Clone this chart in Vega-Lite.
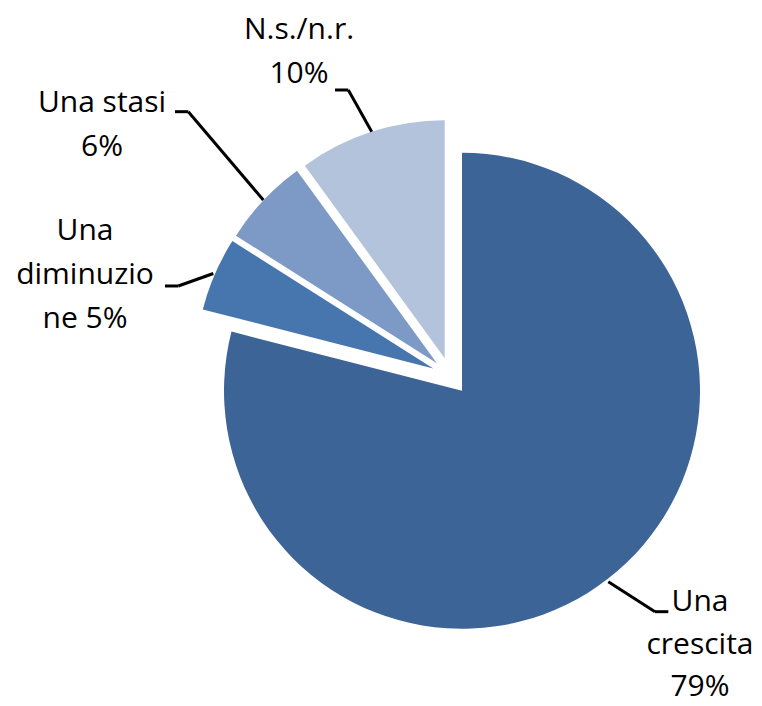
{
  "$schema": "https://vega.github.io/schema/vega-lite/v6.json",
  "width": 762,
  "height": 706,
  "autosize": {"type": "none"},
  "padding": 0,
  "background": "white",
  "config": {
    "view": {"stroke": null},
    "text": {"font": "Open Sans", "fontSize": 30, "color": "black", "align": "center", "baseline": "alphabetic", "lineBreak": "\n", "lineHeight": 44},
    "rule": {"color": "black", "strokeWidth": 3}
  },
  "data": {
    "values": [
      {"category": "Una crescita", "value": 79},
      {"category": "Una diminuzione", "value": 5},
      {"category": "Una stasi", "value": 6},
      {"category": "N.s./n.r.", "value": 10}
    ]
  },
  "transform": [
    {"window": [{"op": "row_number", "as": "rank"}]},
    {"stack": "value", "groupby": [], "sort": [{"field": "rank", "order": "ascending"}], "as": ["t0", "t1"]}
  ],
  "layer": [
    {
      "transform": [{"filter": "datum.category === 'Una crescita'"}, {"calculate": "'Una\\ncrescita\\n' + datum.value + '%'", "as": "lbl"}],
      "layer": [
        {"mark": {"type": "arc", "outerRadius": 238, "xOffset": 11.5, "yOffset": 14.8, "color": "#3D6496"},
         "encoding": {
           "x": {"datum": 0, "type": "quantitative", "scale": {"domain": [-1.8929, 1.3088], "nice": false, "zero": false}, "axis": null},
           "y": {"datum": 0, "type": "quantitative", "scale": {"domain": [-1.3866, 1.5798], "nice": false, "zero": false}, "axis": null},
           "theta": {"field": "t0", "type": "quantitative", "scale": {"domain": [0, 100]}},
           "theta2": {"field": "t1"}
         }},
        {"mark": {"type": "text", "lineHeight": 42.5},
         "encoding": {
           "x": {"datum": 1.0483, "type": "quantitative", "scale": {"domain": [-1.8929, 1.3088], "nice": false, "zero": false}, "axis": null},
           "y": {"datum": -0.9887, "type": "quantitative", "scale": {"domain": [-1.3866, 1.5798], "nice": false, "zero": false}, "axis": null},
           "text": {"field": "lbl"}
         }},
        {"mark": {"type": "rule"},
         "encoding": {
           "x": {"datum": 0.6630, "type": "quantitative", "scale": {"domain": [-1.8929, 1.3088], "nice": false, "zero": false}, "axis": null},
           "y": {"datum": -0.8643, "type": "quantitative", "scale": {"domain": [-1.3866, 1.5798], "nice": false, "zero": false}, "axis": null},
           "x2": {"datum": 0.8592}, "y2": {"datum": -0.9903}
         }},
        {"mark": {"type": "rule"},
         "encoding": {
           "x": {"datum": 0.8592, "type": "quantitative", "scale": {"domain": [-1.8929, 1.3088], "nice": false, "zero": false}, "axis": null},
           "y": {"datum": -0.9903, "type": "quantitative", "scale": {"domain": [-1.3866, 1.5798], "nice": false, "zero": false}, "axis": null},
           "x2": {"datum": 0.9151}, "y2": {"datum": -0.9903}
         }}
      ]
    },
    {
      "transform": [{"filter": "datum.category === 'Una diminuzione'"}, {"calculate": "'Una\\ndiminuzio\\nne ' + datum.value + '%'", "as": "lbl"}],
      "layer": [
        {"mark": {"type": "arc", "outerRadius": 238, "xOffset": -17.2, "yOffset": -7.4, "color": "#4776AE"},
         "encoding": {
           "x": {"datum": 0, "type": "quantitative", "scale": {"domain": [-1.8929, 1.3088], "nice": false, "zero": false}, "axis": null},
           "y": {"datum": 0, "type": "quantitative", "scale": {"domain": [-1.3866, 1.5798], "nice": false, "zero": false}, "axis": null},
           "theta": {"field": "t0", "type": "quantitative", "scale": {"domain": [0, 100]}},
           "theta2": {"field": "t1"}
         }},
        {"mark": {"type": "text"},
         "encoding": {
           "x": {"datum": -1.5357, "type": "quantitative", "scale": {"domain": [-1.8929, 1.3088], "nice": false, "zero": false}, "axis": null},
           "y": {"datum": 0.5714, "type": "quantitative", "scale": {"domain": [-1.3866, 1.5798], "nice": false, "zero": false}, "axis": null},
           "text": {"field": "lbl"}
         }},
        {"mark": {"type": "rule"},
         "encoding": {
           "x": {"datum": -1.1996, "type": "quantitative", "scale": {"domain": [-1.8929, 1.3088], "nice": false, "zero": false}, "axis": null},
           "y": {"datum": 0.3782, "type": "quantitative", "scale": {"domain": [-1.3866, 1.5798], "nice": false, "zero": false}, "axis": null},
           "x2": {"datum": -1.1437}, "y2": {"datum": 0.3782}
         }},
        {"mark": {"type": "rule"},
         "encoding": {
           "x": {"datum": -1.1437, "type": "quantitative", "scale": {"domain": [-1.8929, 1.3088], "nice": false, "zero": false}, "axis": null},
           "y": {"datum": 0.3782, "type": "quantitative", "scale": {"domain": [-1.3866, 1.5798], "nice": false, "zero": false}, "axis": null},
           "x2": {"datum": -0.9966}, "y2": {"datum": 0.4307}
         }}
      ]
    },
    {
      "transform": [{"filter": "datum.category === 'Una stasi'"}, {"calculate": "datum.category + '\\n' + datum.value + '%'", "as": "lbl"}],
      "layer": [
        {"mark": {"type": "arc", "outerRadius": 238, "xOffset": -13.6, "yOffset": -12.8, "color": "#7D9AC6"},
         "encoding": {
           "x": {"datum": 0, "type": "quantitative", "scale": {"domain": [-1.8929, 1.3088], "nice": false, "zero": false}, "axis": null},
           "y": {"datum": 0, "type": "quantitative", "scale": {"domain": [-1.3866, 1.5798], "nice": false, "zero": false}, "axis": null},
           "theta": {"field": "t0", "type": "quantitative", "scale": {"domain": [0, 100]}},
           "theta2": {"field": "t1"}
         }},
        {"mark": {"type": "text"},
         "encoding": {
           "x": {"datum": -1.4643, "type": "quantitative", "scale": {"domain": [-1.8929, 1.3088], "nice": false, "zero": false}, "axis": null},
           "y": {"datum": 1.1105, "type": "quantitative", "scale": {"domain": [-1.3866, 1.5798], "nice": false, "zero": false}, "axis": null},
           "text": {"field": "lbl"}
         }},
        {"mark": {"type": "rule"},
         "encoding": {
           "x": {"datum": -1.1576, "type": "quantitative", "scale": {"domain": [-1.8929, 1.3088], "nice": false, "zero": false}, "axis": null},
           "y": {"datum": 1.1105, "type": "quantitative", "scale": {"domain": [-1.3866, 1.5798], "nice": false, "zero": false}, "axis": null},
           "x2": {"datum": -1.1017}, "y2": {"datum": 1.1105}
         }},
        {"mark": {"type": "rule"},
         "encoding": {
           "x": {"datum": -1.1017, "type": "quantitative", "scale": {"domain": [-1.8929, 1.3088], "nice": false, "zero": false}, "axis": null},
           "y": {"datum": 1.1105, "type": "quantitative", "scale": {"domain": [-1.3866, 1.5798], "nice": false, "zero": false}, "axis": null},
           "x2": {"datum": -0.7866}, "y2": {"datum": 0.7395}
         }}
      ]
    },
    {
      "transform": [{"filter": "datum.category === 'N.s./n.r.'"}, {"calculate": "datum.category + '\\n' + datum.value + '%'", "as": "lbl"}],
      "layer": [
        {"mark": {"type": "arc", "outerRadius": 238, "xOffset": -5.8, "yOffset": -17.8, "color": "#B4C3DC"},
         "encoding": {
           "x": {"datum": 0, "type": "quantitative", "scale": {"domain": [-1.8929, 1.3088], "nice": false, "zero": false}, "axis": null},
           "y": {"datum": 0, "type": "quantitative", "scale": {"domain": [-1.3866, 1.5798], "nice": false, "zero": false}, "axis": null},
           "theta": {"field": "t0", "type": "quantitative", "scale": {"domain": [0, 100]}},
           "theta2": {"field": "t1"}
         }},
        {"mark": {"type": "text"},
         "encoding": {
           "x": {"datum": -0.6366, "type": "quantitative", "scale": {"domain": [-1.8929, 1.3088], "nice": false, "zero": false}, "axis": null},
           "y": {"datum": 1.4147, "type": "quantitative", "scale": {"domain": [-1.3866, 1.5798], "nice": false, "zero": false}, "axis": null},
           "text": {"field": "lbl"}
         }},
        {"mark": {"type": "rule"},
         "encoding": {
           "x": {"datum": -0.4853, "type": "quantitative", "scale": {"domain": [-1.8929, 1.3088], "nice": false, "zero": false}, "axis": null},
           "y": {"datum": 1.2017, "type": "quantitative", "scale": {"domain": [-1.3866, 1.5798], "nice": false, "zero": false}, "axis": null},
           "x2": {"datum": -0.4294}, "y2": {"datum": 1.2017}
         }},
        {"mark": {"type": "rule"},
         "encoding": {
           "x": {"datum": -0.4294, "type": "quantitative", "scale": {"domain": [-1.8929, 1.3088], "nice": false, "zero": false}, "axis": null},
           "y": {"datum": 1.2017, "type": "quantitative", "scale": {"domain": [-1.3866, 1.5798], "nice": false, "zero": false}, "axis": null},
           "x2": {"datum": -0.3311}, "y2": {"datum": 1.0265}
         }}
      ]
    }
  ]
}
